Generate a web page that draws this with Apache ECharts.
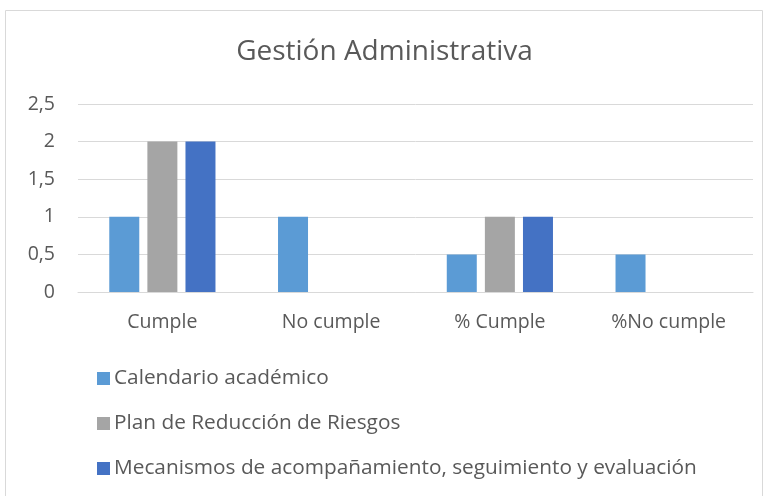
<!DOCTYPE html>
<html>
<head>
<meta charset="utf-8">
<script src="https://cdn.jsdelivr.net/npm/echarts@6/dist/echarts.min.js"></script>
<style>
  html, body { margin: 0; padding: 0; background: #fff; }
</style>
</head>
<body>
<div id="main" style="width: 769px; height: 496px;"></div>
<script>
// datos del gráfico
const categorias = ['Cumple', 'No cumple', '% Cumple', '%No cumple']
const calendario = [1, 1, 0.5, 0.5]
const planRiesgos = [2, 0, 1, 0]
const mecanismos = [2, 0, 1, 0]
const nombres = [
  'Calendario académico',
  'Plan de Reducción de Riesgos',
  'Mecanismos de acompañamiento, seguimiento y evaluación'
]

const fuente = '"Open Sans", "Noto Sans", sans-serif'
const gris = '#595959'

const myChart = echarts.init(document.getElementById('main'))
const option = {
  animation: false,
  textStyle: { fontFamily: fuente },
  title: {
    text: 'Gestión Administrativa',
    left: 'center',
    top: 33,
    textStyle: { fontSize: 28, fontWeight: 'normal', color: gris, fontFamily: fuente }
  },
  graphic: [{
    type: 'rect',
    shape: { x: 5.5, y: 10.5, width: 757, height: 500 },
    style: { fill: 'none', stroke: '#D9D9D9', lineWidth: 1 },
    silent: true
  }],
  legend: {
    orient: 'vertical',
    left: 92,
    top: 363,
    itemWidth: 13,
    itemHeight: 13,
    itemGap: 24,
    icon: 'rect',
    textStyle: { fontSize: 20.8, lineHeight: 21, color: gris, fontFamily: fuente, padding: [0, 0, 0, -1] },
    data: nombres
  },
  grid: {
    left: 78,
    right: 16,
    top: 104,
    height: 188,
    containLabel: false
  },
  xAxis: {
    type: 'category',
    data: categorias,
    axisLine: { lineStyle: { color: '#D9D9D9', width: 1 } },
    axisTick: { show: false },
    axisLabel: { fontSize: 19.5, color: gris, margin: 20 }
  },
  yAxis: {
    type: 'value',
    min: 0,
    max: 2.5,
    interval: 0.5,
    axisLine: { show: false },
    axisTick: { show: false },
    splitLine: { lineStyle: { color: '#D9D9D9', width: 1 } },
    axisLabel: {
      fontSize: 19.5,
      color: gris,
      margin: 23,
      formatter: v => String(v).replace('.', ',')
    }
  },
  series: [
    {
      name: nombres[0],
      type: 'bar',
      color: '#5B9BD5',
      barWidth: 30,
      barGap: '27%',
      data: calendario
    },
    {
      name: nombres[1],
      type: 'bar',
      color: '#A5A5A5',
      barWidth: 30,
      barGap: '27%',
      data: planRiesgos
    },
    {
      name: nombres[2],
      type: 'bar',
      color: '#4472C4',
      barWidth: 30,
      barGap: '27%',
      data: mecanismos
    }
  ]
}
myChart.setOption(option)
</script>
</body>
</html>
